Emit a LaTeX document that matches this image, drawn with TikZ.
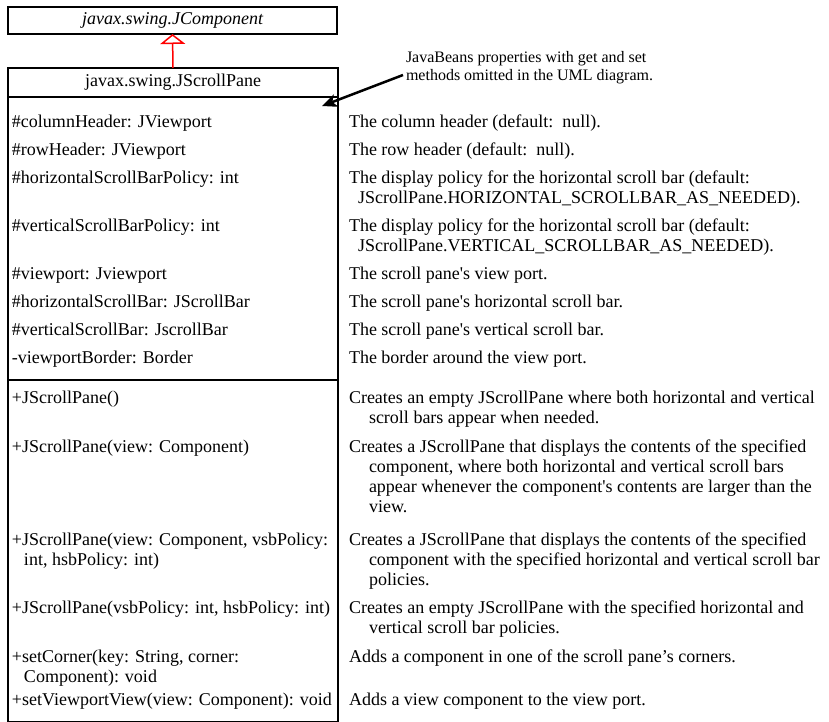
\documentclass[tikz,border=0pt]{standalone}
\usepackage{fontspec}
\setmainfont{Liberation Serif}
\usetikzlibrary{arrows.meta}
\newcommand{\ml}[1]{\parbox[t]{480pt}{#1}}
\newcommand{\ind}{\hspace*{20pt}}
\newcommand{\indl}{\hspace*{12pt}}
\newcommand{\sq}{\textquotesingle}
\begin{document}
\begin{tikzpicture}[x=1pt,y=-1pt,
  umlbox/.style={draw, line width=1.5pt, inner sep=0pt, outer sep=0pt, font=\fontsize{18}{20}\selectfont},
  boxline/.style={line width=1.5pt},
  txt/.style={anchor=base west, inner sep=0pt, outer sep=0pt, font=\fontsize{18}{20}\selectfont},
  notetxt/.style={anchor=base west, inner sep=0pt, outer sep=0pt, font=\fontsize{16}{18}\selectfont},
  inherit/.style={draw=red, line width=1.5pt, -{Triangle[open, length=10pt, width=25pt, fill=white]}},
  notearrow/.style={line width=2.5pt, -{Stealth[length=15pt, width=13pt, inset=4pt]}}
]
\useasboundingbox (0,0) rectangle (829,721);

% classes
\node[umlbox, minimum width=329pt, minimum height=27pt, font=\itshape\fontsize{18}{20}\selectfont] (comp) at (172.5,20.5) {javax.swing.JComponent};
\node[umlbox, minimum width=330pt, minimum height=29pt] (sp) at (173,82.5) {javax.swing.JScrollPane};
\coordinate (boxbot) at (338,722);
\draw[boxline] (sp.south west) rectangle (boxbot);
\coordinate (msepL) at (8,380);
\coordinate (msepR) at (338,380);
\draw[boxline] (msepL) -- (msepR);

\draw[inherit] (sp.north) -- (comp.south);

% note
\node[notetxt] (note) at (406,62) {\parbox[t]{300pt}{JavaBeans properties with get and set\\methods omitted in the UML diagram.}};
\coordinate (notetail) at (403,75);
\coordinate (notetip) at (322,106);
\draw[notearrow] (notetail) -- (notetip);

% attributes
\node[txt] (a1) at (12,127) {\#columnHeader: JViewport};
\node[txt] (a2) at (12,155) {\#rowHeader: JViewport};
\node[txt] (a3) at (12,183) {\#horizontalScrollBarPolicy: int};
\node[txt] (a4) at (12,231) {\#verticalScrollBarPolicy: int};
\node[txt] (a5) at (12,279) {\#viewport: Jviewport};
\node[txt] (a6) at (12,307) {\#horizontalScrollBar: JScrollBar};
\node[txt] (a7) at (12,335) {\#verticalScrollBar: JscrollBar};
\node[txt] (a8) at (12,363) {-viewportBorder: Border};

% methods
\node[txt] (m1) at (12,403) {+JScrollPane()};
\node[txt] (m2) at (12,452) {+JScrollPane(view: Component)};
\node[txt] (m3) at (12,545) {\ml{+JScrollPane(view: Component, vsbPolicy:\\\indl int, hsbPolicy: int)}};
\node[txt] (m4) at (12,613) {+JScrollPane(vsbPolicy: int, hsbPolicy: int)};
\node[txt] (m5) at (12,662) {\ml{+setCorner(key: String, corner:\\\indl Component): void}};
\node[txt] (m6) at (12,705) {+setViewportView(view: Component): void};

% descriptions
\node[txt] (d1) at (349,127) {The column header (default:\ \ null).};
\node[txt] (d2) at (349,155) {The row header (default:\ \ null).};
\node[txt] (d3) at (349,183) {\ml{The display policy for the horizontal scroll bar (default:\\\hspace*{9pt}JScrollPane.HORIZONTAL\_SCROLLBAR\_AS\_NEEDED).}};
\node[txt] (d4) at (349,231) {\ml{The display policy for the horizontal scroll bar (default:\\\hspace*{9pt}JScrollPane.VERTICAL\_SCROLLBAR\_AS\_NEEDED).}};
\node[txt] (d5) at (349,279) {The scroll pane\sq s view port.};
\node[txt] (d6) at (349,307) {The scroll pane\sq s horizontal scroll bar.};
\node[txt] (d7) at (349,335) {The scroll pane\sq s vertical scroll bar.};
\node[txt] (d8) at (349,363) {The border around the view port.};
\node[txt] (d9) at (349,403) {\ml{Creates an empty JScrollPane where both horizontal and vertical\\\ind scroll bars appear when needed.}};
\node[txt] (d10) at (349,452) {\ml{Creates a JScrollPane that displays the contents of the specified\\\ind component, where both horizontal and vertical scroll bars\\\ind appear whenever the component\sq s contents are larger than the\\\ind view.}};
\node[txt] (d11) at (349,545) {\ml{Creates a JScrollPane that displays the contents of the specified\\\ind component with the specified horizontal and vertical scroll bar\\\ind policies.}};
\node[txt] (d12) at (349,613) {\ml{Creates an empty JScrollPane with the specified horizontal and\\\ind vertical scroll bar policies.}};
\node[txt] (d13) at (349,662) {Adds a component in one of the scroll pane’s corners.};
\node[txt] (d14) at (349,705) {Adds a view component to the view port.};
\end{tikzpicture}
\end{document}
